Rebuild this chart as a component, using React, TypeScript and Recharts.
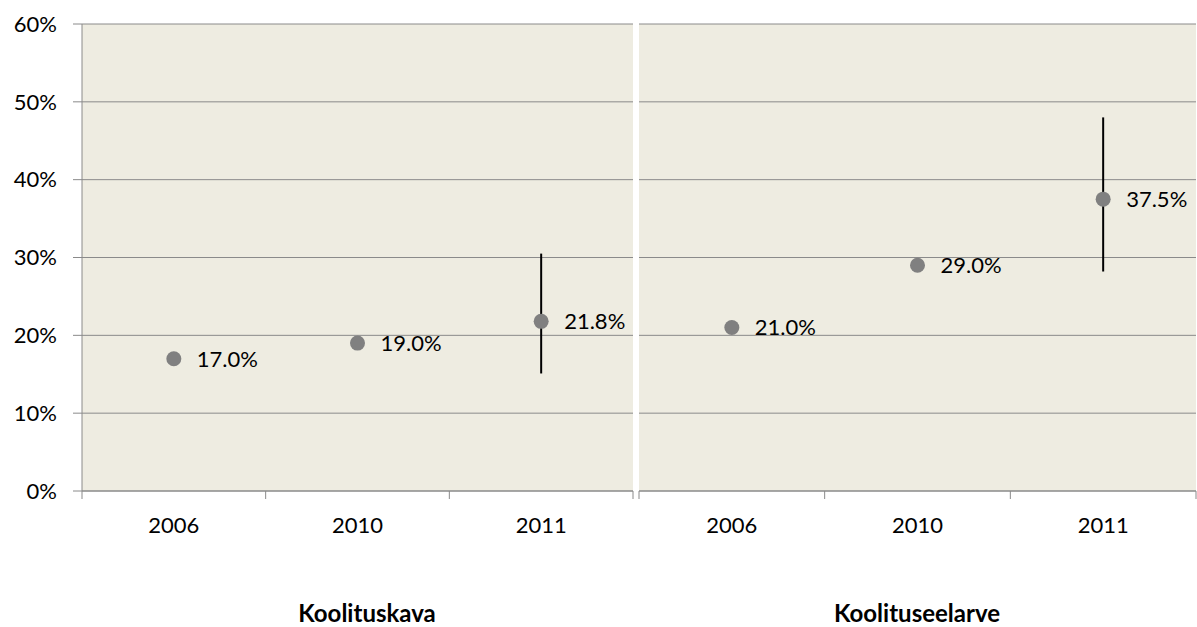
import { CartesianGrid, ComposedChart, ErrorBar, Scatter, XAxis, YAxis } from "recharts";

const years = ["2006", "2010", "2011"];
const kavaValues = [17.0, 19.0, 21.8];
const kavaErrors = [
  [0, 0],
  [0, 0],
  [6.7, 8.7],
];
const eelarveValues = [21.0, 29.0, 37.5];
const eelarveErrors = [
  [0, 0],
  [0, 0],
  [9.3, 10.5],
];
const yTicks = [0, 10, 20, 30, 40, 50, 60];
const panelTitles = ["Koolituskava", "Koolituseelarve"];

const FONT = "Lato, 'Open Sans', sans-serif";
const LINE = "#8a8a8a";
const PLOT_BG = "#EEECE1";

function toRows(values: number[], errors: number[][]) {
  return years.map((year, i) => ({ year, value: values[i], err: errors[i] }));
}

function Dot(props: any) {
  const { cx, cy, payload } = props;
  return (
    <g>
      <circle cx={cx} cy={cy} r={7.5} fill="#808080" />
      <text x={cx + 23} y={cy} dy="0.36em" fontSize={22} fontFamily={FONT} fill="#000">
        {payload.value.toFixed(1)}%
      </text>
    </g>
  );
}

// year label in the middle of the band, tick marks on the band edges (Excel style)
function YearTick(props: any) {
  const { x, y, payload, index, visibleTicksCount } = props;
  const half = payload.offset ?? 0;
  const last = index === visibleTicksCount - 1;
  return (
    <g>
      <line x1={x - half} x2={x - half} y1={y} y2={y + 8} stroke={LINE} />
      {last && <line x1={x + half} x2={x + half} y1={y} y2={y + 8} stroke={LINE} />}
      <text x={x} y={y + 26} dy="0.71em" textAnchor="middle" fontSize={22} fontFamily={FONT} fill="#000">
        {payload.value}
      </text>
    </g>
  );
}

function Panel({
  rows,
  showYAxis,
  width,
  left,
  right,
}: {
  rows: { year: string; value: number; err: number[] }[];
  showYAxis: boolean;
  width: number;
  left: number;
  right: number;
}) {
  return (
    <ComposedChart
      width={width}
      height={540}
      data={rows}
      margin={{ top: 24, right, left, bottom: 9 }}
    >
      <CartesianGrid vertical={false} stroke={LINE} fill={PLOT_BG} fillOpacity={1} />
      <XAxis
        dataKey="year"
        scale="band"
        interval={0}
        height={40}
        stroke={LINE}
        tickLine={false}
        tickSize={0}
        tickMargin={0}
        tick={<YearTick />}
      />
      <YAxis
        hide={!showYAxis}
        width={82}
        domain={[0, 60]}
        ticks={yTicks}
        interval={0}
        tickFormatter={(v) => `${v}%`}
        tickSize={9}
        tickMargin={16}
        stroke={LINE}
        tick={{ fontSize: 22, fill: "#000", fontFamily: FONT }}
      />
      <Scatter dataKey="value" shape={<Dot />} isAnimationActive={false}>
        <ErrorBar dataKey="err" direction="y" width={0} stroke="#000" strokeWidth={2} />
      </Scatter>
    </ComposedChart>
  );
}

export default function App() {
  return (
    <div
      style={{
        position: "fixed",
        left: 0,
        top: 0,
        width: 1197,
        height: 627,
        background: "#fff",
        fontFamily: FONT,
      }}
    >
      <div style={{ position: "absolute", left: 0, top: 0 }}>
        <Panel rows={toRows(kavaValues, kavaErrors)} showYAxis width={634} left={0} right={1} />
      </div>
      <div style={{ position: "absolute", left: 634, top: 0 }}>
        <Panel rows={toRows(eelarveValues, eelarveErrors)} showYAxis={false} width={563} left={5} right={1} />
      </div>
      {panelTitles.map((title, i) => (
        <div
          key={title}
          style={{
            position: "absolute",
            left: i === 0 ? 217 : 767,
            width: 300,
            top: 600,
            lineHeight: "26px",
            textAlign: "center",
            fontSize: 24,
            fontWeight: 700,
            color: "#000",
          }}
        >
          {title}
        </div>
      ))}
    </div>
  );
}
